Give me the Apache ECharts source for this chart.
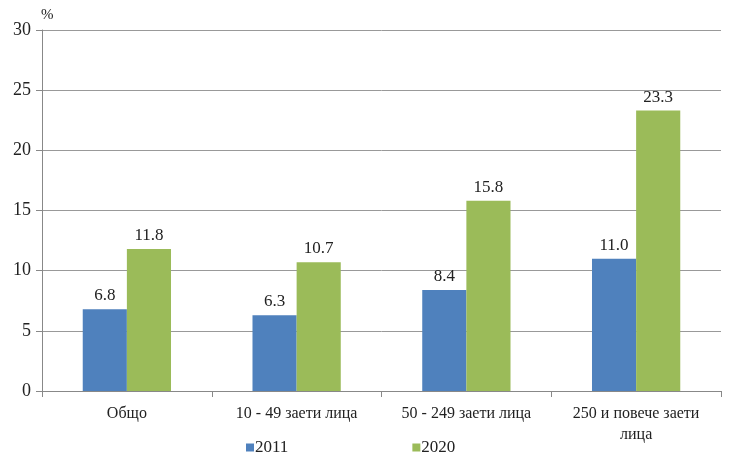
<!DOCTYPE html>
<html><head><meta charset="utf-8">
<script src="https://cdn.jsdelivr.net/npm/echarts@6/dist/echarts.min.js"></script>
<style>html,body{margin:0;padding:0;background:#fff}#c{width:740px;height:467px}</style>
</head><body><div id="c"></div>
<script>
var categories = ['Общо', '10 - 49 заети лица', '50 - 249 заети лица', '250 и повече заети\nлица'];
var s2011 = [6.8, 6.3, 8.4, 11.0];
var s2020 = [11.8, 10.7, 15.8, 23.3];
var yTicks = [0, 5, 10, 15, 20, 25, 30];
var font = '"Liberation Serif", "Times New Roman", serif';
var chart = echarts.init(document.getElementById('c'), null, {renderer: 'canvas'});
var lbl = {show: true, position: 'top', distance: 5, color: '#222', fontFamily: font, fontSize: 17,
  formatter: function(p){ return p.value.toFixed(1); }};
chart.setOption({
  animation: false,
  textStyle: {fontFamily: font},
  grid: {left: 42, right: 19, top: 30, bottom: 76},
  legend: {
    bottom: 6, left: 241, itemGap: 124, itemWidth: 8, itemHeight: 8, icon: 'rect',
    textStyle: {fontFamily: font, fontSize: 17, color: '#222', padding: [0,0,0,-4]},
    data: ['2011', '2020']
  },
  title: {text: '%', left: 36, top: 3, textStyle: {fontFamily: font, fontSize: 15, fontWeight: 'normal', color: '#222'}},
  xAxis: {
    type: 'category', data: categories,
    axisLine: {lineStyle: {color: '#888', width: 1}},
    axisTick: {show: true, length: 6, lineStyle: {color: '#888'}},
    axisLabel: {color: '#222', fontFamily: font, fontSize: 16, margin: 12, lineHeight: 21, interval: 0}
  },
  yAxis: {
    type: 'value', min: yTicks[0], max: yTicks[yTicks.length-1], interval: 5,
    axisLine: {show: true, lineStyle: {color: '#888', width: 1}},
    axisTick: {show: true, length: 6, lineStyle: {color: '#888'}},
    splitLine: {lineStyle: {color: '#999', width: 1}},
    axisLabel: {color: '#222', fontFamily: font, fontSize: 18, margin: 11}
  },
  series: [
    {name: '2011', type: 'bar', data: s2011, barWidth: '26%', barGap: '0%', itemStyle: {color: '#4f81bd'}, label: lbl},
    {name: '2020', type: 'bar', data: s2020, barWidth: '26%', barGap: '0%', itemStyle: {color: '#9bbb59'}, label: lbl}
  ]
});
</script></body></html>
